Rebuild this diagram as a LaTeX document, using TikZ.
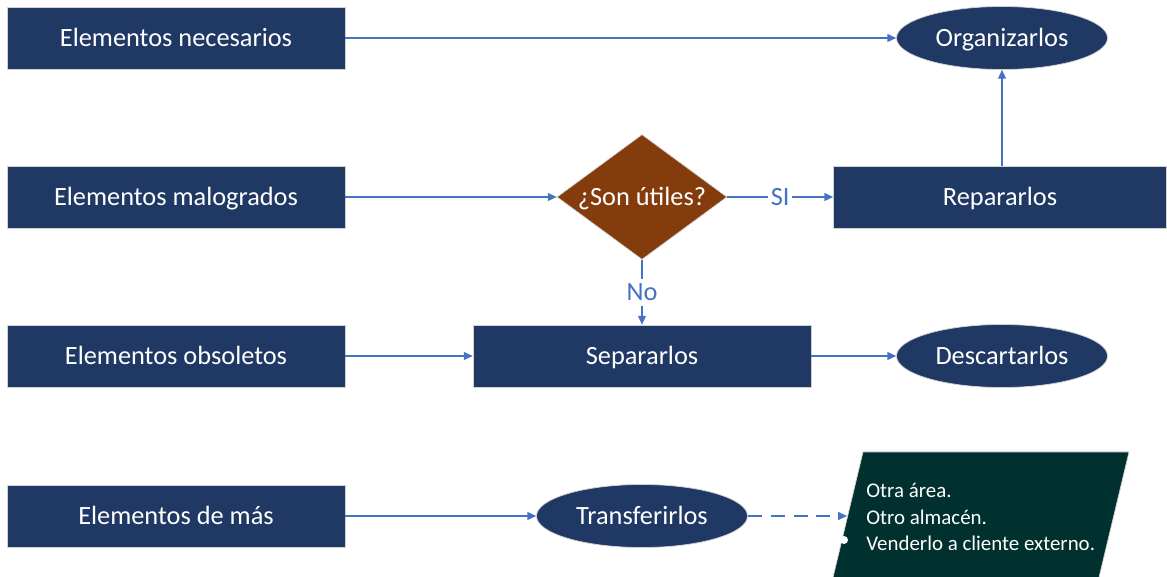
\documentclass[tikz,border=0pt]{standalone}
\usepackage{fontspec}
\setmainfont{Carlito}
\usetikzlibrary{shapes.geometric,arrows.meta}

\definecolor{navy}{HTML}{203864}
\definecolor{cafe}{HTML}{843C0C}
\definecolor{verde}{HTML}{00312E}
\definecolor{flecha}{HTML}{4472C4}

\begin{document}
\begin{tikzpicture}[x=0.02cm, y=-0.02cm,
    texto/.style={text=white, text height=11pt, text depth=1.3pt,
        font=\fontsize{15}{18}\selectfont},
    caja/.style={texto, rectangle, fill=navy, draw=gray!35, line width=0.4pt,
        minimum width=6.76cm, minimum height=1.24cm, inner sep=0pt},
    elipse/.style={texto, ellipse, fill=navy, draw=gray!35, line width=0.4pt,
        minimum width=4.22cm, minimum height=1.26cm, inner sep=0pt},
    decision/.style={texto, diamond, fill=cafe, draw=gray!35, line width=0.4pt,
        aspect=1.36, minimum width=3.4cm, minimum height=2.5cm, inner sep=0pt},
    flujo/.style={draw=flecha, line width=0.7pt, -{Triangle[length=5pt,width=4.5pt]}},
    etiqueta/.style={fill=white, text=flecha, inner sep=1.5pt,
        text height=11pt, text depth=1.3pt, font=\fontsize{15}{18}\selectfont}
]

    % Page
    \useasboundingbox (0,0) rectangle (1167,577);
    \clip (0,0) rectangle (1167,577);

    % Left column
    \node[caja] (nec) at (176,38) {Elementos necesarios};
    \node[caja] (mal) at (176,197) {Elementos malogrados};
    \node[caja] (obs) at (176,356) {Elementos obsoletos};
    \node[caja] (mas) at (176,516) {Elementos de más};

    % Decision and actions
    \node[decision] (util) at (642,197) {¿Son útiles?};
    \node[caja, minimum width=6.66cm] (rep) at (1000,197) {Repararlos};
    \node[caja] (sep) at (642,356) {Separarlos};
    \node[elipse] (org) at (1002,38) {Organizarlos};
    \node[elipse] (desc) at (1002,356) {Descartarlos};
    \node[elipse] (trans) at (642,516) {Transferirlos};

    % Destinations
    \fill[verde, draw=gray!35, line width=0.4pt]
        (863,452) -- (1129,452) -- (1096,590) -- (830,590) -- cycle;
    \coordinate (pe) at (847,516);
    \fill[white] (844,540) circle (4);
    \node[anchor=west, align=left, text=white, inner sep=0pt,
        font=\fontsize{11.9}{15.3}\selectfont] (otros) at (866,517)
        {Otra área.\\Otro almacén.\\Venderlo a cliente externo.};

    % Connectors
    \draw[flujo] (nec) -- (org);
    \draw[flujo] (mal) -- (util);
    \draw[flujo] (util) -- node[etiqueta] {SI} (rep);
    \draw[flujo] (util) -- node[etiqueta] {No} (sep);
    \draw[flujo] (rep.north -| org.south) -- (org.south);
    \draw[flujo] (obs) -- (sep);
    \draw[flujo] (sep) -- (desc);
    \draw[flujo] (mas) -- (trans);
    \draw[flujo, dash pattern=on 8pt off 5pt] (trans) -- (pe);

\end{tikzpicture}
\end{document}
